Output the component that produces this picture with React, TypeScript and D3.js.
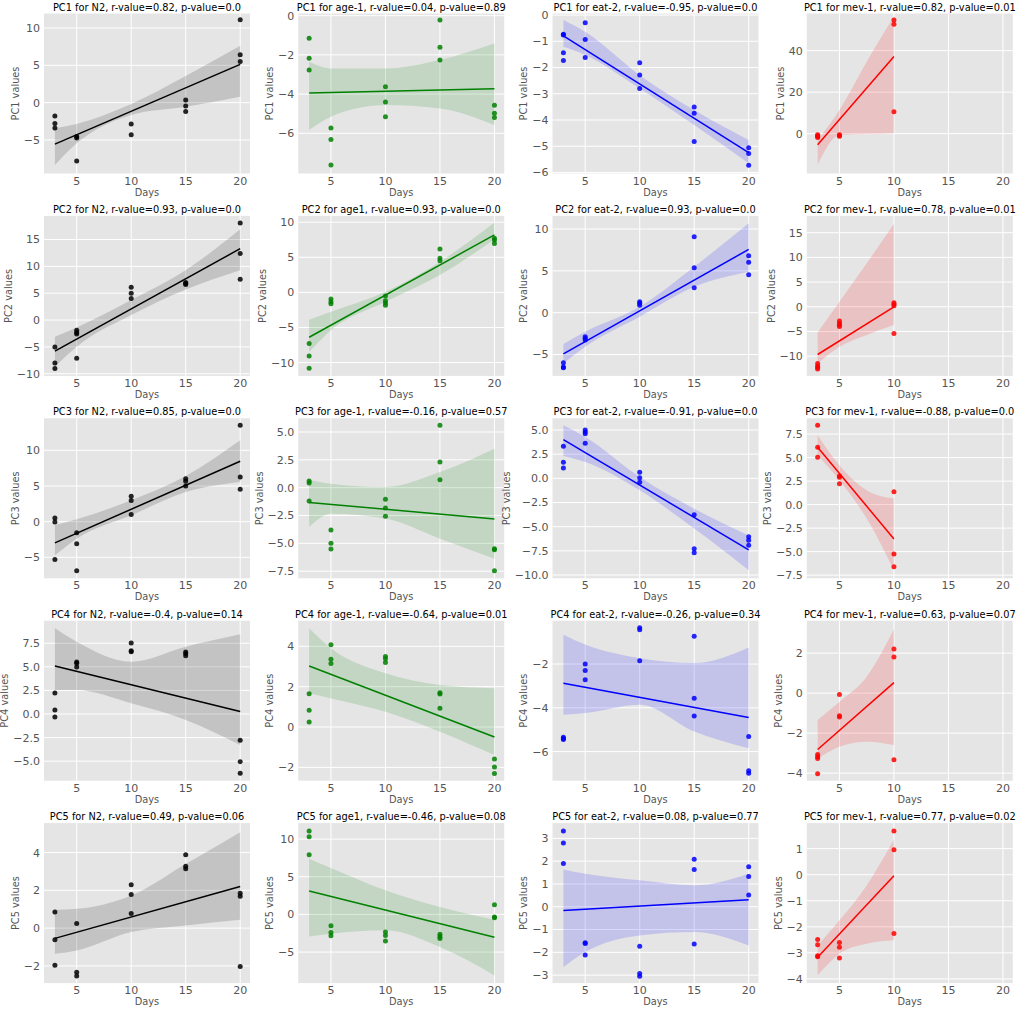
import React, { useEffect, useRef } from 'react';
import * as d3 from 'd3';

type Pt = [number, number];

const strains = ['N2', 'age-1', 'eat-2', 'mev-1'];
const strainColors = ['#000000', '#008000', '#0000ff', '#ff0000'];
const pcNames = ['PC1', 'PC2', 'PC3', 'PC4', 'PC5'];
const xTicks = [5, 10, 15, 20];
const bandDays = [3, 5, 10, 15, 20];
const mevBandDays = [3, 5, 7.5, 10];

const titles = [
    ['PC1 for N2, r-value=0.82, p-value=0.0', 'PC1 for age-1, r-value=0.04, p-value=0.89', 'PC1 for eat-2, r-value=-0.95, p-value=0.0', 'PC1 for mev-1, r-value=0.82, p-value=0.01'],
    ['PC2 for N2, r-value=0.93, p-value=0.0', 'PC2 for age1, r-value=0.93, p-value=0.0', 'PC2 for eat-2, r-value=0.93, p-value=0.0', 'PC2 for mev-1, r-value=0.78, p-value=0.01'],
    ['PC3 for N2, r-value=0.85, p-value=0.0', 'PC3 for age-1, r-value=-0.16, p-value=0.57', 'PC3 for eat-2, r-value=-0.91, p-value=0.0', 'PC3 for mev-1, r-value=-0.88, p-value=0.0'],
    ['PC4 for N2, r-value=-0.4, p-value=0.14', 'PC4 for age-1, r-value=-0.64, p-value=0.01', 'PC4 for eat-2, r-value=-0.26, p-value=0.34', 'PC4 for mev-1, r-value=0.63, p-value=0.07'],
    ['PC5 for N2, r-value=0.49, p-value=0.06', 'PC5 for age1, r-value=-0.46, p-value=0.08', 'PC5 for eat-2, r-value=0.08, p-value=0.77', 'PC5 for mev-1, r-value=0.77, p-value=0.02'],
];

// scatter points [day, value], one list per strain
const pc1Points: Pt[][] = [
    [[3, -1.8], [3, -2.8], [3, -3.4], [5, -4.55], [5, -4.75], [5, -7.8], [10, -2.85], [10, -4.3], [15, 0.35], [15, -0.45], [15, -1.2], [20, 11.1], [20, 6.4], [20, 5.5]],
    [[3, -1.15], [3, -2.17], [3, -2.77], [5, -5.73], [5, -6.31], [5, -7.62], [10, -3.62], [10, -4.4], [10, -5.15], [15, -0.22], [15, -1.61], [15, -2.26], [20, -4.57], [20, -4.98], [20, -5.2]],
    [[3, -0.73], [3, -0.76], [3, -1.44], [3, -1.73], [5, -0.29], [5, -0.93], [5, -1.62], [10, -1.82], [10, -2.28], [10, -2.8], [15, -3.5], [15, -3.74], [15, -4.82], [20, -5.06], [20, -5.28], [20, -5.73]],
    [[3, -0.5], [3, -1.0], [3, -1.4], [3, -1.8], [5, -0.5], [5, -0.9], [5, -1.2], [10, 54.8], [10, 52.7], [10, 10.6]],
];
const pc2Points: Pt[][] = [
    [[3, -5.0], [3, -8.0], [3, -9.0], [5, -1.9], [5, -2.3], [5, -2.6], [5, -7.1], [10, 6.1], [10, 5.0], [10, 4.0], [15, 7.0], [15, 6.8], [15, 6.6], [20, 18.1], [20, 12.4], [20, 7.6]],
    [[3, -7.3], [3, -9.05], [3, -10.8], [5, -0.95], [5, -1.33], [5, -1.62], [10, -0.5], [10, -1.2], [10, -1.5], [10, -1.85], [15, 6.19], [15, 4.86], [15, 4.52], [20, 7.71], [20, 7.48], [20, 6.95]],
    [[3, -6.0], [3, -6.5], [3, -6.6], [5, -2.87], [5, -3.07], [5, -3.27], [10, 1.31], [10, 1.12], [10, 0.88], [15, 9.08], [15, 5.38], [15, 2.99], [20, 6.81], [20, 6.02], [20, 4.54]],
    [[3, -11.5], [3, -12.0], [3, -12.3], [3, -12.6], [5, -2.9], [5, -3.4], [5, -3.7], [5, -4.0], [10, 0.8], [10, 0.5], [10, 0.2], [10, -5.4]],
];
const pc3Points: Pt[][] = [
    [[3, 0.5], [3, -0.05], [3, -5.3], [5, -1.54], [5, -3.08], [5, -6.87], [10, 3.55], [10, 2.95], [10, 1.0], [15, 6.03], [15, 5.65], [15, 5.0], [20, 13.5], [20, 6.26], [20, 4.53]],
    [[3, 0.6], [3, 0.42], [3, -1.2], [5, -3.8], [5, -5.0], [5, -5.5], [10, -1.05], [10, -1.83], [10, -2.57], [15, 5.6], [15, 2.3], [15, 0.72], [20, -5.48], [20, -5.57], [20, -7.46]],
    [[3, 3.31], [3, 1.66], [3, 1.07], [5, 5.0], [5, 4.8], [5, 4.6], [5, 3.62], [10, 0.62], [10, 0.07], [10, -0.41], [15, -3.76], [15, -7.28], [15, -7.69], [20, -6.03], [20, -6.41], [20, -6.93]],
    [[3, 8.44], [3, 6.1], [3, 5.04], [5, 3.05], [5, 2.9], [5, 2.23], [10, 1.38], [10, -5.25], [10, -6.6]],
];
const pc4Points: Pt[][] = [
    [[3, 2.23], [3, 0.42], [3, -0.32], [5, 5.51], [5, 5.37], [5, 4.98], [10, 7.53], [10, 6.71], [10, 6.6], [15, 6.57], [15, 6.4], [15, 6.18], [20, -2.79], [20, -5.05], [20, -6.29]],
    [[3, 1.65], [3, 0.83], [3, 0.25], [5, 4.08], [5, 3.36], [5, 3.15], [10, 3.5], [10, 3.39], [10, 3.2], [15, 1.7], [15, 1.64], [15, 0.93], [20, -1.59], [20, -1.98], [20, -2.3]],
    [[3, -5.35], [3, -5.4], [3, -5.45], [5, -2.0], [5, -2.29], [5, -2.72], [10, -0.34], [10, -0.43], [10, -1.85], [15, -0.73], [15, -3.56], [15, -4.37], [20, -5.31], [20, -6.87], [20, -6.99]],
    [[3, -3.07], [3, -3.18], [3, -3.27], [3, -4.03], [5, -0.07], [5, -1.13], [5, -1.2], [10, 2.2], [10, 1.8], [10, -3.33]],
];
const pc5Points: Pt[][] = [
    [[3, 0.85], [3, -0.62], [3, -1.96], [5, 0.25], [5, -2.33], [5, -2.54], [10, 2.29], [10, 1.78], [10, 0.78], [15, 3.88], [15, 3.28], [15, 3.14], [20, 1.85], [20, 1.69], [20, -2.03]],
    [[3, 11.06], [3, 10.3], [3, 7.92], [5, -1.5], [5, -2.4], [5, -2.85], [10, -2.35], [10, -2.8], [10, -3.54], [15, -2.65], [15, -2.92], [15, -3.19], [20, 1.28], [20, -0.35], [20, -0.44]],
    [[3, 3.32], [3, 2.8], [3, 1.9], [5, -1.58], [5, -1.61], [5, -2.12], [10, -1.73], [10, -2.93], [10, -3.05], [15, 2.08], [15, 1.63], [15, -1.63], [20, 1.76], [20, 1.33], [20, 0.51]],
    [[3, -2.49], [3, -2.69], [3, -3.11], [3, -3.15], [5, -2.6], [5, -2.78], [5, -3.2], [10, 1.68], [10, 0.96], [10, -2.26]],
];

// confidence band edges read at bandDays (mev-1 at mevBandDays)
const pc1Hi = [[-3.44, -2.86, -0.18, 3.57, 7.63], [-2.35, -2.69, -2.69, -2.26, -1.41], [-0.19, -0.64, -2.29, -3.62, -4.76], [-3.05, 11.4, 34.7, 56.4]];
const pc1Lo = [[-8.35, -5.45, -1.65, -0.54, 0.8], [-5.83, -5.15, -4.56, -4.73, -5.58], [-1.21, -1.52, -2.8, -4.19, -5.65], [-15.1, -0.6, -0.2, 0.2]];
const pc2Hi = [[-3.1, -1.37, 3.73, 9.3, 16.9], [-3.9, -2.76, 0.1, 4.38, 9.95], [-3.75, -2.27, 0.72, 5.5, 10.7], [-5.2, 1.0, 8.8, 16.8]];
const pc2Lo = [[-8.7, -4.97, 0.93, 5.7, 9.3], [-8.5, -5.38, -1.33, 2.48, 7.57], [-6.06, -4.06, -0.48, 3.1, 4.9], [-11.5, -8.1, -5.7, -3.7]];
const pc3Hi = [[-0.5, 0.33, 3.0, 6.4, 11.4], [0.72, 0.36, 0.06, 1.4, 3.5], [5.48, 4.28, 0.14, -3.14, -5.9], [7.38, 4.18, 1.52, 0.64]];
const pc3Lo = [[-4.7, -2.38, 0.89, 4.16, 5.56], [-3.53, -2.34, -2.78, -4.58, -6.38], [2.31, 1.69, -1.24, -5.2, -9.5], [5.25, 2.59, -1.49, -6.99]];
const pc4Hi = [[9.08, 7.67, 5.55, 7.14, 8.45], [4.89, 3.9, 2.66, 2.08, 1.92], [-0.66, -1.11, -1.73, -1.95, -1.24], [-1.35, -0.43, 0.82, 3.2]];
const pc4Lo = [[2.54, 2.54, 1.13, -0.64, -3.29], [1.67, 1.42, 0.76, -0.23, -1.39], [-4.32, -4.24, -3.86, -5.08, -5.85], [-3.27, -2.68, -2.43, -2.6]];
const pc5Hi = [[0.97, 1.02, 1.73, 3.4, 5.08], [7.39, 6.15, 3.19, 0.97, -0.71], [1.63, 1.45, 1.16, 0.94, 1.45], [-2.71, -1.75, -0.41, 1.36]];
const pc5Lo = [[-1.36, -1.18, -0.21, 0.14, 0.44], [-2.92, -2.57, -2.12, -4.34, -8.1], [-2.65, -1.99, -1.26, -1.11, -1.7], [-3.86, -3.03, -2.65, -2.52]];

// y limits [bottom, top] and tick values per panel
const pc1Domains = [[-9.49, 11.94], [-8.05, 0.11], [-6.04, 0.06], [-19.2, 57.9]];
const pc2Domains = [[-10.4, 19.4], [-11.9, 10.9], [-7.56, 11.57], [-14.0, 18.4]];
const pc3Domains = [[-7.94, 14.49], [-8.14, 6.23], [-10.34, 6.21], [-7.84, 9.18]];
const pc4Domains = [[-7.07, 9.89], [-2.66, 5.27], [-7.33, -0.02], [-4.38, 3.62]];
const pc5Domains = [[-2.91, 5.56], [-9.12, 12.12], [-3.35, 3.67], [-4.16, 1.98]];

const pc1Ticks = [[-5, 0, 5, 10], [-6, -4, -2, 0], [-6, -5, -4, -3, -2, -1, 0], [0, 20, 40]];
const pc2Ticks = [[-10, -5, 0, 5, 10, 15], [-10, -5, 0, 5, 10], [-5, 0, 5, 10], [-10, -5, 0, 5, 10, 15]];
const pc3Ticks = [[-5, 0, 5, 10], [-7.5, -5, -2.5, 0, 2.5, 5], [-10, -7.5, -5, -2.5, 0, 2.5, 5], [-7.5, -5, -2.5, 0, 2.5, 5, 7.5]];
const pc4Ticks = [[-5, -2.5, 0, 2.5, 5, 7.5], [-2, 0, 2, 4], [-6, -4, -2], [-4, -2, 0, 2]];
const pc5Ticks = [[-2, 0, 2, 4], [-5, 0, 5, 10], [-3, -2, -1, 0, 1, 2, 3], [-4, -3, -2, -1, 0, 1]];

const allPoints = [pc1Points, pc2Points, pc3Points, pc4Points, pc5Points];
const allHi = [pc1Hi, pc2Hi, pc3Hi, pc4Hi, pc5Hi];
const allLo = [pc1Lo, pc2Lo, pc3Lo, pc4Lo, pc5Lo];
const allDomains = [pc1Domains, pc2Domains, pc3Domains, pc4Domains, pc5Domains];
const allTicks = [pc1Ticks, pc2Ticks, pc3Ticks, pc4Ticks, pc5Ticks];

const W = 1017;
const H = 1012;
const COL_W = 254.25;
const ROW_H = 202.4;
const LEFT = 44;
const TOP = 13.5;
const PW = 206;
const PH = 160;
const FONT = 'DejaVu Sans, sans-serif';

const fmtTick = (ticks: number[]) => {
    const dec = ticks.some(t => !Number.isInteger(t));
    return (t: number) => (dec ? t.toFixed(1) : String(t)).replace('-', '\u2212');
};

const App: React.FC = () => {
    const svgRef = useRef<SVGSVGElement>(null);

    useEffect(() => {
        const svg = d3.select(svgRef.current);
        svg.selectAll('*').remove();

        const x = d3.scaleLinear().domain([2.0, 20.9]).range([0, PW]);

        allPoints.forEach((rowPts, r) => {
            rowPts.forEach((pts, c) => {
                const color = strainColors[c];
                const ticks = allTicks[r][c];
                const y = d3.scaleLinear().domain(allDomains[r][c]).range([PH, 0]);
                const g = svg.append('g')
                    .attr('transform', `translate(${c * COL_W + LEFT}, ${r * ROW_H + TOP})`);

                g.append('rect').attr('width', PW).attr('height', PH).attr('fill', '#e5e5e5');

                g.selectAll('.gx').data(xTicks).enter().append('line')
                    .attr('x1', d => x(d)).attr('x2', d => x(d))
                    .attr('y1', 0).attr('y2', PH)
                    .attr('stroke', '#fff').attr('stroke-width', 1);
                g.selectAll('.gy').data(ticks).enter().append('line')
                    .attr('x1', 0).attr('x2', PW)
                    .attr('y1', d => y(d)).attr('y2', d => y(d))
                    .attr('stroke', '#fff').attr('stroke-width', 1);

                g.selectAll('.dot').data(pts).enter().append('circle')
                    .attr('cx', d => x(d[0])).attr('cy', d => y(d[1]))
                    .attr('r', 2.5).attr('fill', color).attr('fill-opacity', 0.85);

                const bx = c === 3 ? mevBandDays : bandDays;
                const lo = allLo[r][c];
                const area = d3.area<number>()
                    .x((d, i) => x(bx[i]))
                    .y0((d, i) => y(lo[i]))
                    .y1(d => y(d))
                    .curve(d3.curveMonotoneX);
                g.append('path').datum(allHi[r][c]).attr('d', area)
                    .attr('fill', color).attr('fill-opacity', 0.15);

                // least squares fit through the points
                const xm = d3.mean(pts, p => p[0]) || 0;
                const ym = d3.mean(pts, p => p[1]) || 0;
                const slope = d3.sum(pts, p => (p[0] - xm) * (p[1] - ym)) / d3.sum(pts, p => (p[0] - xm) ** 2);
                const [x0, x1] = d3.extent(pts, p => p[0]) as [number, number];
                const fit = (v: number) => ym + slope * (v - xm);
                g.append('line')
                    .attr('x1', x(x0)).attr('y1', y(fit(x0)))
                    .attr('x2', x(x1)).attr('y2', y(fit(x1)))
                    .attr('stroke', color).attr('stroke-width', 1.5);

                g.selectAll('.xt').data(xTicks).enter().append('text')
                    .attr('x', d => x(d)).attr('y', PH + 11)
                    .attr('text-anchor', 'middle')
                    .attr('font-family', FONT).attr('font-size', 11).attr('fill', '#555')
                    .text(d => String(d));

                const fmt = fmtTick(ticks);
                const yt = g.append('g');
                yt.selectAll('text').data(ticks).enter().append('text')
                    .attr('x', -4).attr('y', d => y(d)).attr('dy', '0.36em')
                    .attr('text-anchor', 'end')
                    .attr('font-family', FONT).attr('font-size', 11).attr('fill', '#555')
                    .text(d => fmt(d));
                const bb = (yt.node() as SVGGElement).getBBox();

                g.append('text')
                    .attr('transform', `translate(${bb.x - 5}, ${PH / 2}) rotate(-90)`)
                    .attr('text-anchor', 'middle')
                    .attr('font-family', FONT).attr('font-size', 9.8).attr('fill', '#555')
                    .text(`${pcNames[r]} values`);

                g.append('text')
                    .attr('x', PW / 2).attr('y', PH + 22)
                    .attr('text-anchor', 'middle')
                    .attr('font-family', FONT).attr('font-size', 9.8).attr('fill', '#555')
                    .text('Days');

                g.append('text')
                    .attr('x', PW / 2).attr('y', -3)
                    .attr('text-anchor', 'middle')
                    .attr('font-family', FONT).attr('font-size', 9.8).attr('fill', '#000')
                    .text(titles[r][c]);
            });
        });
    }, []);

    return (
        <svg ref={svgRef} width={W} height={H}
            style={{ position: 'absolute', left: 0, top: 0, background: '#fff' }}
            aria-label={strains.join(', ')} />
    );
};

export default App;
